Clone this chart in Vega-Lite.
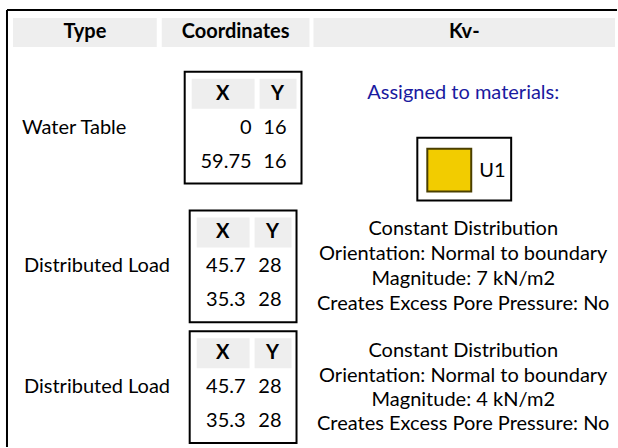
{
  "$schema": "https://vega.github.io/schema/vega-lite/v6.json",
  "width": 618,
  "height": 448,
  "autosize": {"type": "fit", "contains": "padding"},
  "padding": 0,
  "background": "white",
  "config": {"view": {"stroke": null}, "text": {"font": "Lato", "fontSize": 20}},
  "datasets": {
    "gray": [
      {"x": 13, "x2": 157, "y": 18, "y2": 47},
      {"x": 162, "x2": 310, "y": 18, "y2": 47},
      {"x": 314, "x2": 616, "y": 18, "y2": 47},
      {"x": 192, "x2": 255, "y": 79, "y2": 109},
      {"x": 260, "x2": 297, "y": 79, "y2": 109},
      {"x": 197, "x2": 250, "y": 218, "y2": 248},
      {"x": 255, "x2": 292, "y": 218, "y2": 248},
      {"x": 197, "x2": 250, "y": 339, "y2": 369},
      {"x": 255, "x2": 292, "y": 339, "y2": 369}
    ],
    "boxes": [
      {"x": 185, "x2": 302, "y": 72, "y2": 184},
      {"x": 190, "x2": 297, "y": 211, "y2": 323},
      {"x": 190, "x2": 297, "y": 332, "y2": 444},
      {"x": 418, "x2": 512, "y": 138, "y2": 201}
    ],
    "border": [
      {"x": 7, "x2": 7, "y": 10, "y2": 448},
      {"x": 7, "x2": 618, "y": 10, "y2": 10}
    ],
    "swatch": [{"x": 428, "x2": 472, "y": 149, "y2": 192, "material": "U1"}],
    "texts": [
      {"kind": "head", "x": 85, "y": 32, "t": "Type"},
      {"kind": "head", "x": 236, "y": 32, "t": "Coordinates"},
      {"kind": "head", "x": 465, "y": 32, "t": "Kv-"},
      {"kind": "head", "x": 223, "y": 94, "t": "X"},
      {"kind": "head", "x": 278, "y": 94, "t": "Y"},
      {"kind": "head", "x": 223, "y": 233, "t": "X"},
      {"kind": "head", "x": 273, "y": 233, "t": "Y"},
      {"kind": "head", "x": 223, "y": 354, "t": "X"},
      {"kind": "head", "x": 273, "y": 354, "t": "Y"},
      {"kind": "label", "x": 22, "y": 128, "t": "Water Table"},
      {"kind": "label", "x": 24, "y": 267, "t": "Distributed Load"},
      {"kind": "label", "x": 24, "y": 388, "t": "Distributed Load"},
      {"kind": "num", "x": 252, "y": 128, "t": "0"},
      {"kind": "num", "x": 287, "y": 128, "t": "16"},
      {"kind": "num", "x": 252, "y": 162, "t": "59.75"},
      {"kind": "num", "x": 287, "y": 162, "t": "16"},
      {"kind": "num", "x": 246, "y": 267, "t": "45.7"},
      {"kind": "num", "x": 282, "y": 267, "t": "28"},
      {"kind": "num", "x": 246, "y": 301, "t": "35.3"},
      {"kind": "num", "x": 282, "y": 301, "t": "28"},
      {"kind": "num", "x": 246, "y": 388, "t": "45.7"},
      {"kind": "num", "x": 282, "y": 388, "t": "28"},
      {"kind": "num", "x": 246, "y": 422, "t": "35.3"},
      {"kind": "num", "x": 282, "y": 422, "t": "28"},
      {"kind": "blue", "x": 464, "y": 93, "t": "Assigned to materials:"},
      {"kind": "mat", "x": 480, "y": 171, "t": "U1"},
      {"kind": "desc", "x": 464, "y": 230, "t": "Constant Distribution"},
      {"kind": "desc", "x": 464, "y": 255, "t": "Orientation: Normal to boundary"},
      {"kind": "desc", "x": 464, "y": 280, "t": "Magnitude: 7 kN/m2"},
      {"kind": "desc", "x": 464, "y": 305, "t": "Creates Excess Pore Pressure: No"},
      {"kind": "desc", "x": 464, "y": 352, "t": "Constant Distribution"},
      {"kind": "desc", "x": 464, "y": 377, "t": "Orientation: Normal to boundary"},
      {"kind": "desc", "x": 464, "y": 401, "t": "Magnitude: 4 kN/m2"},
      {"kind": "desc", "x": 464, "y": 425, "t": "Creates Excess Pore Pressure: No"}
    ]
  },
  "layer": [
    {
      "data": {"name": "gray"},
      "mark": {"type": "rect", "fill": "#eeeeee"},
      "encoding": {
        "x": {"field": "x", "type": "quantitative", "scale": {"domain": [0, 618], "nice": false, "zero": false}, "axis": null},
        "x2": {"field": "x2"},
        "y": {"field": "y", "type": "quantitative", "scale": {"domain": [0, 448], "nice": false, "zero": false, "reverse": true}, "axis": null},
        "y2": {"field": "y2"}
      }
    },
    {
      "data": {"name": "boxes"},
      "mark": {"type": "rect", "fill": null, "fillOpacity": 0, "stroke": "black", "strokeWidth": 2},
      "encoding": {
        "x": {"field": "x", "type": "quantitative", "axis": null},
        "x2": {"field": "x2"},
        "y": {"field": "y", "type": "quantitative", "axis": null},
        "y2": {"field": "y2"}
      }
    },
    {
      "data": {"name": "border"},
      "mark": {"type": "rule", "stroke": "black", "strokeWidth": 2},
      "encoding": {
        "x": {"field": "x", "type": "quantitative", "axis": null},
        "x2": {"field": "x2"},
        "y": {"field": "y", "type": "quantitative", "axis": null},
        "y2": {"field": "y2"}
      }
    },
    {
      "data": {"name": "swatch"},
      "mark": {"type": "rect", "fill": "#f2cc00", "stroke": "#4a3f00", "strokeWidth": 2},
      "encoding": {
        "x": {"field": "x", "type": "quantitative", "axis": null},
        "x2": {"field": "x2"},
        "y": {"field": "y", "type": "quantitative", "axis": null},
        "y2": {"field": "y2"}
      }
    },
    {
      "data": {"name": "texts"},
      "transform": [{"filter": "datum.kind === 'head'"}],
      "mark": {"type": "text", "align": "center", "baseline": "middle", "fontWeight": "bold", "color": "black"},
      "encoding": {
        "x": {"field": "x", "type": "quantitative", "axis": null},
        "y": {"field": "y", "type": "quantitative", "axis": null},
        "text": {"field": "t"}
      }
    },
    {
      "data": {"name": "texts"},
      "transform": [{"filter": "datum.kind === 'label' || datum.kind === 'mat'"}],
      "mark": {"type": "text", "align": "left", "baseline": "middle", "color": "black"},
      "encoding": {
        "x": {"field": "x", "type": "quantitative", "axis": null},
        "y": {"field": "y", "type": "quantitative", "axis": null},
        "text": {"field": "t"}
      }
    },
    {
      "data": {"name": "texts"},
      "transform": [{"filter": "datum.kind === 'num'"}],
      "mark": {"type": "text", "align": "right", "baseline": "middle", "color": "black"},
      "encoding": {
        "x": {"field": "x", "type": "quantitative", "axis": null},
        "y": {"field": "y", "type": "quantitative", "axis": null},
        "text": {"field": "t"}
      }
    },
    {
      "data": {"name": "texts"},
      "transform": [{"filter": "datum.kind === 'desc'"}],
      "mark": {"type": "text", "align": "center", "baseline": "middle", "color": "black"},
      "encoding": {
        "x": {"field": "x", "type": "quantitative", "axis": null},
        "y": {"field": "y", "type": "quantitative", "axis": null},
        "text": {"field": "t"}
      }
    },
    {
      "data": {"name": "texts"},
      "transform": [{"filter": "datum.kind === 'blue'"}],
      "mark": {"type": "text", "align": "center", "baseline": "middle", "color": "#1a1aa0"},
      "encoding": {
        "x": {"field": "x", "type": "quantitative", "axis": null},
        "y": {"field": "y", "type": "quantitative", "axis": null},
        "text": {"field": "t"}
      }
    }
  ]
}
